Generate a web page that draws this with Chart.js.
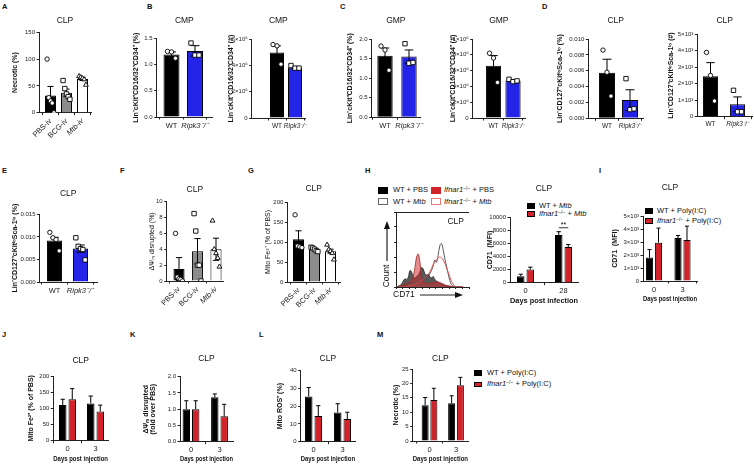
<!DOCTYPE html>
<html>
<head>
<meta charset="utf-8">
<title>CLP figure</title>
<script src="https://cdn.jsdelivr.net/npm/chart.js@4.4.1/dist/chart.umd.min.js"></script>
<style>
  html, body { margin: 0; padding: 0; background: #fff; }
  body { position: relative; width: 754px; height: 465px; overflow: hidden;
         font-family: "Liberation Sans", Arial, sans-serif; color: #111; }
  canvas { position: absolute; }
  .tag { position: absolute; font-weight: bold; font-size: 7.5px; line-height: 1; }
  .sw { position: absolute; box-sizing: border-box; }
  .lt { position: absolute; font-size: 7.5px; line-height: 8px; white-space: nowrap; }
  .lt sup { font-size: 5px; vertical-align: 2.5px; line-height: 0; }
</style>
</head>
<body>
<div class="tag" style="left:2px;top:3px">A</div>
<div class="tag" style="left:147px;top:3px">B</div>
<div class="tag" style="left:340px;top:3px">C</div>
<div class="tag" style="left:542px;top:3px">D</div>
<div class="tag" style="left:2px;top:167px">E</div>
<div class="tag" style="left:120px;top:167px">F</div>
<div class="tag" style="left:248px;top:167px">G</div>
<div class="tag" style="left:365px;top:167px">H</div>
<div class="tag" style="left:599px;top:167px">I</div>
<div class="tag" style="left:2px;top:331px">J</div>
<div class="tag" style="left:130px;top:331px">K</div>
<div class="tag" style="left:259px;top:331px">L</div>
<div class="tag" style="left:377px;top:331px">M</div>

<!-- H flow legend -->
<div class="sw" style="left:378px;top:187px;width:10px;height:7px;background:#000"></div>
<div class="lt" style="left:393px;top:186px">WT + PBS</div>
<div class="sw" style="left:431px;top:187px;width:10px;height:7px;background:#d2232a"></div>
<div class="lt" style="left:444px;top:186px"><i>Ifnar1</i><sup>−/−</sup> + PBS</div>
<div class="sw" style="left:378px;top:198px;width:10px;height:7px;border:0.8px solid #666;background:#fff"></div>
<div class="lt" style="left:393px;top:198px">WT + <i>Mtb</i></div>
<div class="sw" style="left:431px;top:198px;width:10px;height:7px;border:0.8px solid #e47a7a;background:#fff"></div>
<div class="lt" style="left:444px;top:198px"><i>Ifnar1</i><sup>−/−</sup> + <i>Mtb</i></div>

<!-- H bar legend -->
<div class="sw" style="left:527px;top:203px;width:8px;height:5.5px;background:#000"></div>
<div class="lt" style="left:539px;top:201.5px">WT + <i>Mtb</i></div>
<div class="sw" style="left:527px;top:211px;width:8px;height:5.5px;background:#d2232a;border:0.6px solid #000"></div>
<div class="lt" style="left:539px;top:209.5px"><i>Ifnar1</i><sup>−/−</sup> + <i>Mtb</i></div>

<!-- I legend -->
<div class="sw" style="left:645px;top:208px;width:8px;height:5.5px;background:#000"></div>
<div class="lt" style="left:657px;top:206.8px">WT + Poly(I:C)</div>
<div class="sw" style="left:645px;top:218px;width:8px;height:5.5px;background:#d2232a;border:0.6px solid #000"></div>
<div class="lt" style="left:657px;top:216.8px"><i>Ifnar1</i><sup>−/−</sup> + Poly(I:C)</div>

<!-- M legend -->
<div class="sw" style="left:474px;top:370px;width:8px;height:5.5px;background:#000"></div>
<div class="lt" style="left:487px;top:368.5px">WT + Poly(I:C)</div>
<div class="sw" style="left:474px;top:381.5px;width:8px;height:5.5px;background:#d2232a;border:0.6px solid #000"></div>
<div class="lt" style="left:487px;top:380px"><i>Ifnar1</i><sup>−/−</sup> + Poly(I:C)</div>

<script>
// ---------- data ----------
const ivCats = ['PBS-iv', 'BCG-iv', 'Mtb-iv'];
const geneCats = ['WT', 'Ripk3⁻/⁻'];
const infDays = ['0', '28'];
const injDays = ['0', '3'];

// A: necrotic CLP (%)
const aMean = [32, 37, 63];
const aSem = [17, 7, 3];
const aPts = [[100, 28, 22, 18, 0], [60, 45, 35, 30, 25], [68, 66, 64, 62, 52]];

// B: CMP
const bPctMean = [1.19, 1.26];
const bPctSem = [0.05, 0.1];
const bPctPts = [[1.25, 1.24, 1.12], [1.41, 1.18, 1.18]];
const bNumMean = [5.0e5, 3.85e5];
const bNumSem = [0.5e5, 0.08e5];
const bNumPts = [[5.6e5, 5.5e5, 4.1e5], [4.0e5, 3.8e5, 3.8e5]];

// C: GMP
const cPctMean = [1.57, 1.55];
const cPctSem = [0.2, 0.17];
const cPctPts = [[1.82, 1.72, 1.2], [1.88, 1.38, 1.4]];
const cNumMean = [6.6e5, 4.75e5];
const cNumSem = [1.3e5, 0.1e5];
const cNumPts = [[8.2e5, 7.6e5, 4.5e5], [4.9e5, 4.6e5, 4.7e5]];

// D: CLP
const dPctMean = [0.00575, 0.0023];
const dPctSem = [0.0017, 0.0013];
const dPctPts = [[0.0086, 0.0058, 0.0028], [0.005, 0.0011, 0.0012]];
const dNumMean = [2450, 750];
const dNumSem = [830, 450];
const dNumPts = [[3900, 2500, 950], [1600, 300, 300]];

// E: CLP (%)
const eMean = [0.0092, 0.0074];
const eSem = [0.0007, 0.0008];
const ePts = [[0.011, 0.0098, 0.0094, 0.0069], [0.0098, 0.0079, 0.0074, 0.0072, 0.0049]];

// F: membrane potential disrupted (%)
const fMean = [1.5, 3.75, 4.0];
const fSem = [1.45, 1.6, 1.4];
const fPts = [[6, 0.5, 0.3, 0.2, 0], [8.5, 6.3, 2.0, 2.0, 0], [7.6, 4.0, 3.5, 2.9, 1.8]];

// G: mito Fe2+ (% of PBS)
const gMean = [107, 82, 77];
const gSem = [21, 3, 5];
const gPts = [[168, 90, 88, 86], [87, 85, 82, 78, 76], [93, 81, 77, 72, 56]];

// H: CD71 histogram (channel vs relative count)
const hCd71 = [50, 55, 60, 65, 70, 75, 80, 85, 90, 95, 100, 105, 110, 115, 120, 125, 130, 135, 140, 145,
  150, 155, 160, 165, 170, 175, 180, 185, 190, 195, 200, 205, 210, 215, 220, 225, 230, 235, 240, 245, 250];
const hWtPbs = [0, 1, 2, 4, 8, 11, 10, 13, 22, 20, 13, 12, 14, 16, 20, 26, 24, 18, 16, 17,
  14, 12, 14, 10, 8, 6, 5, 4, 3, 2, 2, 1, 1, 0, 0, 0, 0, 0, 0, 0, 0];
const hKoPbs = [0, 1, 1, 2, 3, 4, 5, 6, 7, 9, 14, 26, 40, 44, 34, 14, 7, 6, 5, 5,
  5, 5, 6, 6, 7, 7, 6, 5, 4, 3, 2, 2, 1, 1, 0, 0, 0, 0, 0, 0, 0];
const hWtMtbHist = [0, 0, 0, 0, 1, 2, 3, 4, 5, 5, 5, 6, 6, 7, 9, 10, 10, 11, 12, 14,
  18, 22, 28, 36, 33, 42, 55, 58, 50, 38, 28, 18, 9, 3, 1, 0, 0, 0, 0, 0, 0];
const hKoMtbHist = [0, 0, 0, 0, 0, 0, 1, 1, 2, 2, 3, 4, 5, 6, 8, 9, 10, 12, 14, 17,
  20, 25, 30, 33, 36, 39, 40, 39, 36, 32, 26, 20, 14, 8, 4, 1, 0, 0, 0, 0, 0];

// H: CD71 MFI
const hWtMtb = [1000, 7300];
const hWtMtbSem = [300, 500];
const hKoMtb = [2000, 5450];
const hKoMtbSem = [380, 380];
const hSigLevel = 8400;

// I - M: Poly(I:C)
const iWt = [1800, 3300];
const iWtSem = [620, 200];
const iKo = [2950, 3150];
const iKoSem = [1120, 1070];
const jWt = [110, 115];
const jWtSem = [18, 23];
const jKo = [128, 90];
const jKoSem = [33, 20];
const kWt = [1.0, 1.37];
const kWtSem = [0.26, 0.1];
const kKo = [1.0, 0.78];
const kKoSem = [0.26, 0.37];
const lWt = [25.5, 16.4];
const lWtSem = [5, 5];
const lKo = [14.5, 12.8];
const lKoSem = [5.8, 3.8];
const mWt = [12.4, 13.1];
const mWtSem = [2.7, 2.6];
const mKo = [14.2, 19.4];
const mKoSem = [4.1, 2.7];

// ---------- styling ----------
const BLACK = '#000000';
const GREY = '#8c8c8c';
const WHITE = '#ffffff';
const BLUE = '#2424e8';
const RED = '#d2232a';
const FONT = '"Liberation Sans", Arial, sans-serif';

Chart.defaults.font.family = FONT;
Chart.defaults.color = '#222';

const SUP = { 0: '⁰', 1: '¹', 2: '²', 3: '³', 4: '⁴', 5: '⁵', 6: '⁶' };
const fix = d => v => v.toFixed(d);
const int = v => String(v);
const sci = v => {
  if (v === 0) return '0';
  const e = Math.floor(Math.log10(v) + 1e-9);
  return Math.round(v / Math.pow(10, e)) + '×10' + SUP[e];
};

// mean +/- SEM drawn on the bar elements, through the y scale
Chart.register({
  id: 'errorBars',
  afterDatasetDraw(chart, args) {
    const ds = chart.data.datasets[args.index];
    if (!ds.sem) return;
    const { ctx } = chart;
    const y = chart.scales.y;
    ctx.save();
    ctx.strokeStyle = '#000';
    ctx.lineWidth = 1;
    args.meta.data.forEach((bar, i) => {
      const m = ds.data[i].y;
      const e = ds.sem[i];
      const top = y.getPixelForValue(m + e);
      const bot = ds.errBoth ? y.getPixelForValue(m - e) : bar.y;
      const cap = Math.max(2, bar.width * 0.28);
      ctx.beginPath();
      ctx.moveTo(bar.x, bot);
      ctx.lineTo(bar.x, top);
      ctx.moveTo(bar.x - cap, top);
      ctx.lineTo(bar.x + cap, top);
      if (ds.errBoth) {
        ctx.moveTo(bar.x - cap, bot);
        ctx.lineTo(bar.x + cap, bot);
      }
      ctx.stroke();
    });
    ctx.restore();
  }
});

Chart.register({
  id: 'sigMark',
  afterDatasetsDraw(chart, args, opts) {
    if (!opts || opts.level === undefined) return;
    const a = chart.getDatasetMeta(0).data[opts.index];
    const b = chart.getDatasetMeta(1).data[opts.index];
    const yy = chart.scales.y.getPixelForValue(opts.level);
    const { ctx } = chart;
    ctx.save();
    ctx.strokeStyle = '#000';
    ctx.lineWidth = 0.8;
    ctx.beginPath();
    ctx.moveTo(a.x, yy);
    ctx.lineTo(b.x, yy);
    ctx.stroke();
    ctx.fillStyle = '#000';
    ctx.font = '7px ' + FONT;
    ctx.textAlign = 'center';
    ctx.fillText(opts.text, (a.x + b.x) / 2, yy - 0.5);
    ctx.restore();
  }
});

function scatterFor(pts, shapes, sp, bw) {
  const data = [], style = [], radius = [];
  pts.forEach((vals, i) => {
    const n = vals.length;
    const step = n > 1 ? Math.min(4, bw * 0.62 / (n - 1)) : 0;
    vals.forEach((v, j) => {
      data.push({ x: i + (j - (n - 1) / 2) * step / sp, y: v });
      style.push(shapes[i]);
      radius.push(shapes[i] === 'rect' ? 3.1 : shapes[i] === 'triangle' ? 2.8 : 2.2);
    });
  });
  return {
    type: 'scatter', data, pointStyle: style, pointRadius: radius,
    pointBackgroundColor: '#fff', pointBorderColor: '#000', pointBorderWidth: 0.9, order: 1
  };
}

function barPanel(g) {
  const cv = document.createElement('canvas');
  const left = Math.round(g.labelX - 3.5);
  const top = Math.round(g.titleY - 6.25);
  const bottom = Math.round(g.xTitleY ? g.xTitleY + 4 : g.y1 + g.xh);
  const right = Math.round(g.x1 + 12);
  cv.width = right - left;
  cv.height = bottom - top;
  cv.style.left = left + 'px';
  cv.style.top = top + 'px';
  document.body.appendChild(cv);
  const yw = g.x0 - left;
  const xh = bottom - g.y1;

  const datasets = g.series.map(s => ({
    type: 'bar',
    data: s.mean.map((m, i) => ({ x: i, y: m })),
    backgroundColor: s.color,
    borderColor: '#000',
    borderWidth: 1,
    barPercentage: g.barPct,
    categoryPercentage: g.catPct,
    sem: s.sem,
    errBoth: !!g.errBoth,
    order: 2
  }));
  if (g.pts) datasets.push(scatterFor(g.pts, g.shapes, g.sp, g.sp * g.barPct * g.catPct));

  new Chart(cv, {
    type: 'bar',
    data: { datasets },
    options: {
      responsive: false,
      animation: false,
      devicePixelRatio: 1,
      layout: { padding: { left: 0, top: 0, bottom: 0, right: right - g.x1 } },
      plugins: {
        legend: { display: false },
        tooltip: { enabled: false },
        title: {
          display: true, text: g.title, fullSize: false, color: '#111',
          font: { size: 8.5, weight: 'normal', lineHeight: 1 },
          padding: { top: 2, bottom: g.y0 - top - 2 - 8.5 }
        },
        sigMark: g.sig || {}
      },
      scales: {
        x: {
          type: 'linear',
          offset: false,
          min: (g.x0 - g.c0) / g.sp,
          max: (g.x1 - g.c0) / g.sp,
          afterBuildTicks: s => { s.ticks = g.cats.map((c, i) => ({ value: i })); },
          ticks: {
            autoSkip: false, padding: 1.5, color: '#222',
            minRotation: g.rot || 0, maxRotation: g.rot || 0,
            font: ctx => ({ size: g.xFont || 7.5, style: (g.italic || []).includes(ctx.index) ? 'italic' : 'normal' }),
            callback: (v, i) => g.cats[i]
          },
          grid: { drawOnChartArea: false, tickLength: 2.5, color: '#222' },
          border: { color: '#222', width: 1 },
          title: g.xlabel
            ? { display: true, text: g.xlabel, color: '#111', padding: 0, font: { size: 7.5, weight: 'bold', lineHeight: 1 } }
            : { display: false },
          afterFit: s => { s.height = xh; }
        },
        y: {
          min: g.yTicks[0],
          max: g.yTicks[g.yTicks.length - 1],
          afterBuildTicks: s => { s.ticks = g.yTicks.map(v => ({ value: v })); },
          ticks: { font: { size: 6 }, color: '#222', padding: 1.5, callback: v => g.fmt(v) },
          grid: { drawOnChartArea: false, tickLength: 2.5, color: '#222' },
          border: { color: '#222', width: 1 },
          title: {
            display: true, text: g.ylabel, color: '#111', padding: 0,
            font: { size: 7, weight: g.yBold === false ? 'normal' : 'bold', lineHeight: 1 }
          },
          afterFit: s => { s.width = yw; }
        }
      }
    }
  });
}

const single = (mean, sem, colors) => [{ mean, sem, color: colors }];
const pair = (wt, wtSem, ko, koSem) => [{ mean: wt, sem: wtSem, color: BLACK }, { mean: ko, sem: koSem, color: RED }];
const lin = 'Lin⁻cKit⁺CD16/32⁺CD34⁺';
const clpLab = 'Lin⁻CD127⁺cKitˡᵒSca-1ˡᵒ';

const panels = [
  { title: 'CLP', cats: ivCats, italic: [2], rot: 45, series: single(aMean, aSem, [BLACK, GREY, WHITE]), pts: aPts,
    shapes: ['circle', 'rect', 'triangle'], errBoth: true, labelX: 15.3, x0: 39, x1: 91, y0: 32.3, y1: 112.7,
    titleY: 20, xh: 36, c0: 50.5, sp: 16, barPct: 0.69, catPct: 1, yTicks: [0, 50, 100, 150], fmt: int, ylabel: 'Necrotic (%)' },
  { title: 'CMP', cats: geneCats, italic: [1], series: single(bPctMean, bPctSem, [BLACK, BLUE]), pts: bPctPts,
    shapes: ['circle', 'rect'], errBoth: true, labelX: 136, x0: 156.7, x1: 212, y0: 38.3, y1: 117,
    titleY: 20, xh: 13, c0: 171.5, sp: 23.5, barPct: 0.68, catPct: 1, yTicks: [0, 0.5, 1, 1.5], fmt: fix(1), ylabel: lin + ' (%)' },
  { title: 'CMP', cats: geneCats, italic: [1], series: single(bNumMean, bNumSem, [BLACK, BLUE]), pts: bNumPts,
    shapes: ['circle', 'rect'], errBoth: true, labelX: 231.5, x0: 251.7, x1: 305, y0: 39.3, y1: 118,
    titleY: 20, xh: 13, c0: 277, sp: 18, barPct: 0.78, catPct: 1, xFont: 6.5,
    yTicks: [0, 2e5, 4e5, 6e5], fmt: sci, ylabel: lin + ' (#)' },
  { title: 'GMP', cats: geneCats, italic: [1], series: single(cPctMean, cPctSem, [BLACK, BLUE]), pts: cPctPts,
    shapes: ['circle', 'rect'], errBoth: true, labelX: 350, x0: 371.7, x1: 420, y0: 39, y1: 117.3,
    titleY: 20, xh: 13, c0: 385, sp: 24, barPct: 0.64, catPct: 1, yTicks: [0, 0.5, 1, 1.5, 2], fmt: fix(1), ylabel: lin + ' (%)' },
  { title: 'GMP', cats: geneCats, italic: [1], series: single(cNumMean, cNumSem, [BLACK, BLUE]), pts: cNumPts,
    shapes: ['circle', 'rect'], errBoth: true, labelX: 453.5, x0: 472.7, x1: 525, y0: 39, y1: 118,
    titleY: 20, xh: 13, c0: 493.5, sp: 19.5, barPct: 0.78, catPct: 1, xFont: 6.5,
    yTicks: [0, 2e5, 4e5, 6e5, 8e5, 1e6], fmt: sci, ylabel: lin + ' (#)' },
  { title: 'CLP', cats: geneCats, italic: [1], series: single(dPctMean, dPctSem, [BLACK, BLUE]), pts: dPctPts,
    shapes: ['circle', 'rect'], errBoth: true, labelX: 560, x0: 588.3, x1: 643, y0: 39, y1: 118.3,
    titleY: 20, xh: 13, c0: 607, sp: 23, barPct: 0.7, catPct: 1, xFont: 6.5,
    yTicks: [0, 0.002, 0.004, 0.006, 0.008, 0.01], fmt: fix(3), ylabel: clpLab + ' (%)' },
  { title: 'CLP', cats: geneCats, italic: [1], series: single(dNumMean, dNumSem, [BLACK, BLUE]), pts: dNumPts,
    shapes: ['circle', 'rect'], errBoth: true, labelX: 671.5, x0: 697.3, x1: 752, y0: 34.3, y1: 116.7,
    titleY: 20, xh: 13, c0: 710.5, sp: 27, barPct: 0.56, catPct: 1, xFont: 6.5,
    yTicks: [0, 1000, 2000, 3000, 4000, 5000], fmt: sci, ylabel: clpLab + ' (#)' },
  { title: 'CLP', cats: geneCats, italic: [1], series: single(eMean, eSem, [BLACK, BLUE]), pts: ePts,
    shapes: ['circle', 'rect'], errBoth: true, labelX: 15, x0: 39.5, x1: 97, y0: 214.3, y1: 282,
    titleY: 193, xh: 13, c0: 54.5, sp: 26, barPct: 0.58, catPct: 1,
    yTicks: [0, 0.005, 0.01, 0.015], fmt: fix(3), ylabel: clpLab + ' (%)' },
  { title: 'CLP', cats: ivCats, italic: [2], rot: 45, series: single(fMean, fSem, [BLACK, GREY, WHITE]), pts: fPts,
    shapes: ['circle', 'rect', 'triangle'], errBoth: true, labelX: 152.5, x0: 166.7, x1: 223, y0: 201.7, y1: 281,
    titleY: 189, xh: 36, c0: 179, sp: 18.5, barPct: 0.6, catPct: 1, yBold: false,
    yTicks: [0, 2, 4, 6, 8, 10], fmt: int, ylabel: 'ΔΨₘ disrupted (%)' },
  { title: 'CLP', cats: ivCats, italic: [2], rot: 45, series: single(gMean, gSem, [BLACK, GREY, WHITE]), pts: gPts,
    shapes: ['circle', 'rect', 'triangle'], errBoth: true, labelX: 268.5, x0: 287.3, x1: 340, y0: 202, y1: 282,
    titleY: 188, xh: 36, c0: 298.5, sp: 16, barPct: 0.69, catPct: 1, yBold: false,
    yTicks: [0, 50, 100, 150, 200], fmt: int, ylabel: 'Mito Fe²⁺ (% of PBS)' },
  { title: 'CLP', cats: infDays, series: pair(hWtMtb, hWtMtbSem, hKoMtb, hKoMtbSem),
    labelX: 490, x0: 510, x1: 578, y0: 217.3, y1: 282.7, titleY: 188, xTitleY: 300.7, xlabel: 'Days post infection',
    c0: 525.5, sp: 38, barPct: 0.79, catPct: 0.5, sig: { index: 1, level: hSigLevel, text: '**' },
    yTicks: [0, 2000, 4000, 6000, 8000, 10000], fmt: int, ylabel: 'CD71  (MFI)' },
  { title: 'CLP', cats: injDays, series: pair(iWt, iWtSem, iKo, iKoSem),
    labelX: 615.5, x0: 643, x1: 697, y0: 216, y1: 281, titleY: 187, xTitleY: 299, xlabel: 'Days post injection',
    c0: 654, sp: 28.5, barPct: 0.8, catPct: 0.63,
    yTicks: [0, 1000, 2000, 3000, 4000, 5000], fmt: sci, ylabel: 'CD71  (MFI)' },
  { title: 'CLP', cats: injDays, series: pair(jWt, jWtSem, jKo, jKoSem),
    labelX: 31, x0: 53.3, x1: 108, y0: 376, y1: 440.7, titleY: 360, xTitleY: 459, xlabel: 'Days post injection',
    c0: 67.5, sp: 28, barPct: 0.79, catPct: 0.68,
    yTicks: [0, 50, 100, 150, 200], fmt: int, ylabel: 'Mito Fe²⁺ (% of PBS)' },
  { title: 'CLP', cats: injDays, series: pair(kWt, kWtSem, kKo, kKoSem),
    labelX: 146, x0: 180, x1: 233, y0: 376.7, y1: 441.7, titleY: 358, xTitleY: 459, xlabel: 'Days post injection',
    c0: 191, sp: 28.5, barPct: 0.79, catPct: 0.66,
    yTicks: [0, 0.5, 1, 1.5, 2], fmt: fix(1), ylabel: ['ΔΨₘ disrupted', '(fold over PBS)'] },
  { title: 'CLP', cats: injDays, series: pair(lWt, lWtSem, lKo, lKoSem),
    labelX: 280, x0: 300.7, x1: 355, y0: 370.7, y1: 441.7, titleY: 358, xTitleY: 459, xlabel: 'Days post injection',
    c0: 313.5, sp: 29, barPct: 0.79, catPct: 0.66,
    yTicks: [0, 10, 20, 30, 40], fmt: int, ylabel: 'Mito ROS⁺ (%)' },
  { title: 'CLP', cats: injDays, series: pair(mWt, mWtSem, mKo, mKoSem),
    labelX: 396.5, x0: 412.7, x1: 468, y0: 369, y1: 441, titleY: 358, xTitleY: 459, xlabel: 'Days post injection',
    c0: 429.5, sp: 26.5, barPct: 0.8, catPct: 0.66,
    yTicks: [0, 5, 10, 15, 20, 25], fmt: int, ylabel: 'Necrotic (%)' }
];
panels.forEach(barPanel);

// ---------- H: CD71 histogram overlay ----------
const histDeco = {
  id: 'histDeco',
  afterDraw(chart) {
    const { ctx, chartArea: a } = chart;
    ctx.save();
    ctx.strokeStyle = '#222';
    ctx.fillStyle = '#111';
    ctx.lineWidth = 1;
    ctx.beginPath();
    ctx.moveTo(a.left, a.top + 0.5);
    ctx.lineTo(a.right, a.top + 0.5);
    ctx.stroke();
    ctx.font = '8.5px ' + FONT;
    ctx.textBaseline = 'middle';
    ctx.textAlign = 'right';
    ctx.fillText('CLP', a.right - 5, a.top + 10);
    // axis names with arrows
    const cx = a.left - 9;
    ctx.save();
    ctx.translate(cx, a.bottom - 11);
    ctx.rotate(-Math.PI / 2);
    ctx.textAlign = 'center';
    ctx.fillText('Count', 0, 0);
    ctx.restore();
    ctx.lineWidth = 1.2;
    ctx.beginPath();
    ctx.moveTo(cx, a.bottom - 26);
    ctx.lineTo(cx, a.top + 16);
    ctx.stroke();
    ctx.beginPath();
    ctx.moveTo(cx, a.top + 9);
    ctx.lineTo(cx - 3, a.top + 17);
    ctx.lineTo(cx + 3, a.top + 17);
    ctx.closePath();
    ctx.fill();
    const ty = a.bottom + 8;
    ctx.textAlign = 'left';
    ctx.fillText('CD71', a.left - 3, ty);
    ctx.beginPath();
    ctx.moveTo(a.left + 24, ty);
    ctx.lineTo(a.left + 60, ty);
    ctx.stroke();
    ctx.beginPath();
    ctx.moveTo(a.left + 67, ty);
    ctx.lineTo(a.left + 59, ty - 3);
    ctx.lineTo(a.left + 59, ty + 3);
    ctx.closePath();
    ctx.fill();
    ctx.restore();
  }
};

(function () {
  const cv = document.createElement('canvas');
  cv.width = 100;
  cv.height = 92;
  cv.style.left = '376px';
  cv.style.top = '210px';
  document.body.appendChild(cv);
  const xy = arr => hCd71.map((c, i) => ({ x: c, y: arr[i] }));
  new Chart(cv, {
    type: 'line',
    data: {
      datasets: [
        { data: xy(hWtPbs), fill: 'origin', backgroundColor: 'rgba(60,60,60,0.85)', borderColor: '#222', borderWidth: 0.8, order: 4 },
        { data: xy(hKoPbs), fill: 'origin', backgroundColor: 'rgba(205,45,50,0.55)', borderColor: '#9b2a2a', borderWidth: 0.8, order: 3 },
        { data: xy(hWtMtbHist), fill: false, borderColor: '#4a4a4a', borderWidth: 0.9, order: 2 },
        { data: xy(hKoMtbHist), fill: false, borderColor: '#e04a4a', borderWidth: 0.9, order: 1 }
      ]
    },
    plugins: [histDeco],
    options: {
      responsive: false,
      animation: false,
      devicePixelRatio: 1,
      layout: { padding: { top: 2, right: 7, left: 0, bottom: 0 } },
      elements: { point: { radius: 0 }, line: { tension: 0.35 } },
      plugins: { legend: { display: false }, tooltip: { enabled: false }, sigMark: {} },
      scales: {
        x: {
          type: 'linear', min: 48, max: 268,
          ticks: { display: false, stepSize: 20 },
          grid: { drawOnChartArea: false, tickLength: 2, color: '#222' },
          border: { color: '#222', width: 1 },
          afterFit: s => { s.height = 15; }
        },
        y: {
          min: 0, max: 100,
          ticks: { display: false, stepSize: 20 },
          grid: { drawOnChartArea: false, tickLength: 2, color: '#222' },
          border: { color: '#222', width: 1 },
          afterFit: s => { s.width = 20; }
        }
      }
    }
  });
})();
</script>
</body>
</html>
